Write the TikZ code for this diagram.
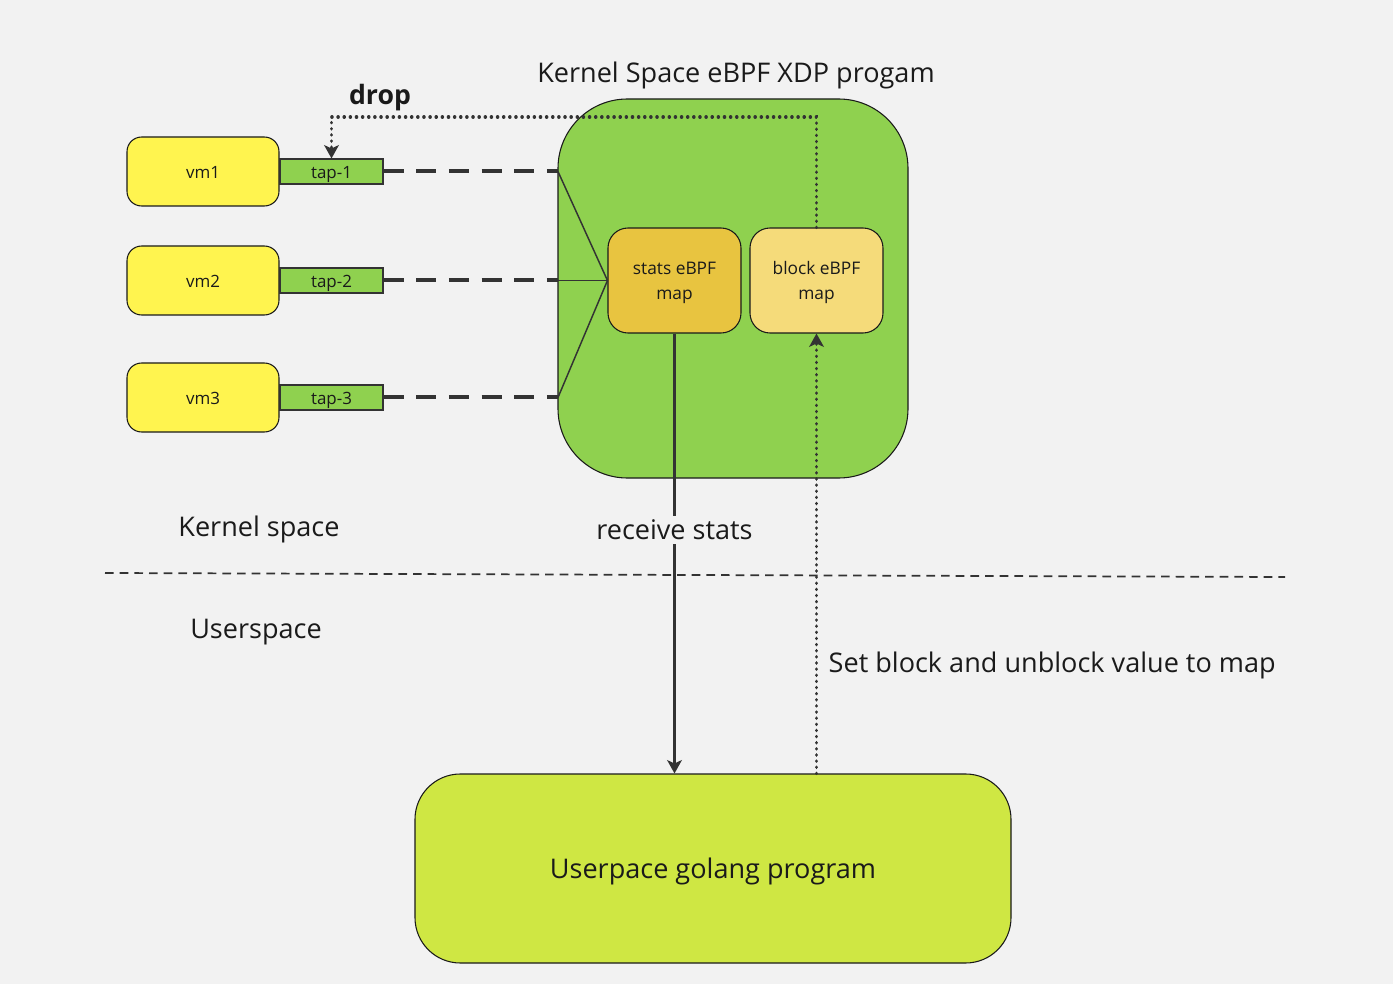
\documentclass[tikz,border=0pt]{standalone}
\usepackage{fontspec}
\setmainfont{Open Sans}
\usetikzlibrary{arrows.meta,calc}
\definecolor{bg}{HTML}{F2F2F2}
\definecolor{ink}{HTML}{333333}
\definecolor{txt}{HTML}{1A1A1A}
\definecolor{vmyellow}{HTML}{FFF44F}
\definecolor{xgreen}{HTML}{8FD14F}
\definecolor{statsc}{HTML}{E8C440}
\definecolor{blockc}{HTML}{F5DB7A}
\definecolor{lime}{HTML}{CFE743}
\tikzset{
  vmbox/.style={draw=txt, line width=0.8pt, fill=vmyellow, rounded corners=11pt, minimum width=114pt, minimum height=51.75pt, text height=11.2pt, text depth=0pt, font=\fontsize{12.7}{14}\selectfont, text=txt},
  tapbox/.style={draw=ink, line width=0.8pt, fill=xgreen, minimum width=77.25pt, minimum height=18.75pt, inner sep=0pt, text height=10.5pt, text depth=0pt, font=\fontsize{12.7}{14}\selectfont, text=txt},
  mapbox/.style={draw=txt, line width=0.8pt, rounded corners=15pt, minimum width=99.75pt, minimum height=78.75pt, align=center, text depth=0pt, font=\fontsize{13}{18.5}\selectfont, text=txt},
  bigfont/.style={font=\fontsize{20.3}{24}\selectfont, text=txt},
  bigtxt/.style={bigfont, yshift=-2.3pt},
  tapline/.style={ink, line width=3pt, dash pattern=on 15pt off 9.5pt},
  fanline/.style={ink, line width=1.1pt},
  dotline/.style={ink, line width=2.6pt, line cap=round, dash pattern=on 0.1pt off 4.5pt},
  tip/.style={-{Stealth[length=10pt,width=11pt,inset=2.5pt,line cap=butt]}},
}
\begin{document}
\begin{tikzpicture}[x=0.75pt,y=-0.75pt]
\fill[bg] (0,0) rectangle (1393,984);
\useasboundingbox (0,0) rectangle (1393,984);

% kernel program box
\node[draw=txt, line width=0.8pt, fill=xgreen, rounded corners=52pt, minimum width=262.5pt, minimum height=284.25pt] (xdp) at (733,288.5) {};
\node[bigtxt] (title) at (736,72) {Kernel Space eBPF XDP progam};

\node[mapbox, fill=statsc] (stats) at (674.5,280.5) {stats eBPF\\map};
\node[mapbox, fill=blockc] (block) at (816.5,280.5) {block eBPF\\map};

% VMs and taps
\node[vmbox] (vm1) at (203,171.5) {vm1};
\node[vmbox] (vm2) at (203,280.5) {vm2};
\node[vmbox] (vm3) at (203,397.5) {vm3};
\node[tapbox] (tap1) at (331.5,171.5) {tap-1};
\node[tapbox] (tap2) at (331.5,280.5) {tap-2};
\node[tapbox] (tap3) at (331.5,397.5) {tap-3};

\coordinate (e1) at (558,171.5);
\coordinate (e2) at (558,280.5);
\coordinate (e3) at (558,397.5);
\draw[tapline] (tap1.east) -- (e1);
\draw[tapline] (tap2.east) -- (e2);
\draw[tapline] (tap3.east) -- (e3);
\draw[fanline] (e1) -- (stats.west);
\draw[fanline] (e2) -- (stats.west);
\draw[fanline] (e3) -- (stats.west);

% drop path
\coordinate (dropc) at (331.5,117);
\draw[dotline, tip] (block.north) |- (dropc) -- (tap1.north);
\node[font=\bfseries\fontsize{20}{24}\selectfont, text=txt, yshift=-2.3pt] (drop) at (380,95) {drop};

% userspace program
\node[draw=txt, line width=0.8pt, fill=lime, rounded corners=34pt, minimum width=447pt, minimum height=141.75pt, bigfont, text height=15.5pt, text depth=0pt] (golang) at (713,868.5) {Userpace golang program};

% separator
\coordinate (sepL) at (105,573);
\coordinate (sepR) at (1285,577);
\draw[ink, line width=1.3pt, dash pattern=on 6.5pt off 4.5pt] (sepL) -- (sepR);
\node[bigtxt] (kspace) at (259,526) {Kernel space};
\node[bigtxt] (uspace) at (256,629) {Userspace};

% stats arrow
\draw[ink, line width=2pt, tip] (stats.south) -- (stats.south |- golang.north);
\node[bigtxt, fill=bg, inner sep=3pt] (recv) at (674.5,527) {receive stats};

% block update arrow
\draw[dotline, tip] (block.south |- golang.north) -- (block.south);
\node[bigtxt, anchor=west] (setlbl) at (824,662) {Set block and unblock value to map};
\end{tikzpicture}
\end{document}
